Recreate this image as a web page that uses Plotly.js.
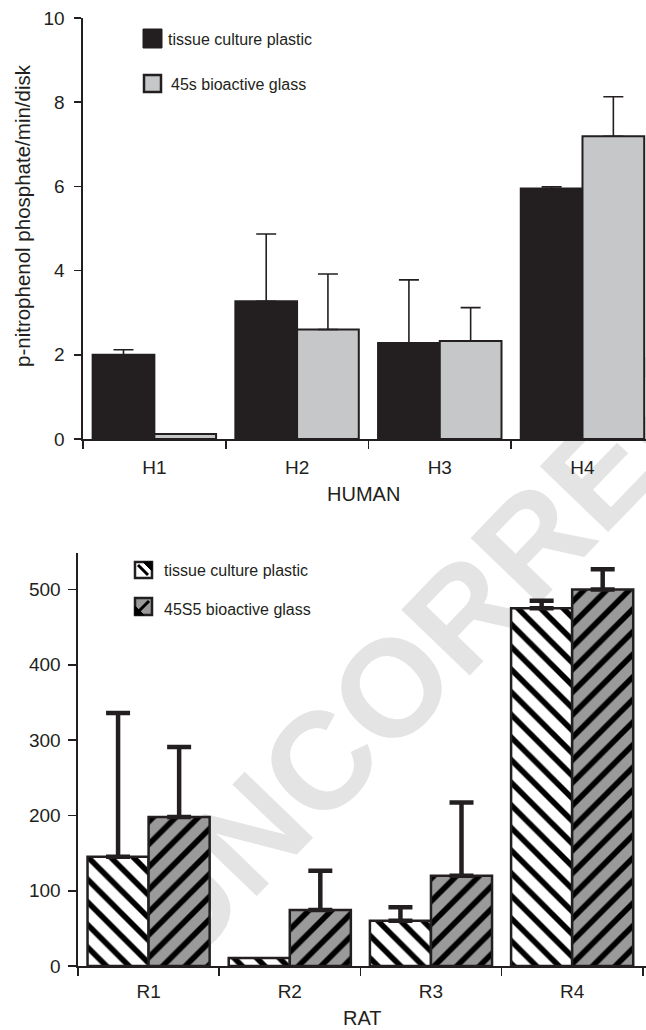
<!DOCTYPE html>
<html>
<head>
<meta charset="utf-8">
<script src="https://cdn.plot.ly/plotly-3.0.1.min.js"></script>
<style>html,body{margin:0;padding:0;background:#fff;}#chart{width:646px;height:1030px;}</style>
</head>
<body>
<div id="chart"></div>
<script>
// ---- data ----
const humanCats = ["H1", "H2", "H3", "H4"];
const humanPlastic = [2.0, 3.27, 2.28, 5.95];
const humanPlasticErr = [0.12, 1.6, 1.5, 0.04];
const humanGlass = [0.12, 2.6, 2.33, 7.19];
const humanGlassErr = [null, 1.32, 0.79, 0.94];

const ratCats = ["R1", "R2", "R3", "R4"];
const ratPlastic = [145, 10.6, 60, 475];
const ratPlasticErr = [191, null, 18, 10];
const ratGlass = [198, 74.4, 120, 500];
const ratGlassErr = [93, 52, 97, 27];

const humanYTicks = [0, 2, 4, 6, 8, 10];
const ratYTicks = [0, 100, 200, 300, 400, 500];

const legendHuman = ["tissue culture plastic", "45s bioactive glass"];
const legendRat = ["tissue culture plastic", "45S5 bioactive glass"];
const yTitleHuman = "p-nitrophenol phosphate/min/disk";
const xTitleHuman = "HUMAN";
const xTitleRat = "RAT";
const watermark = "UNCORRECTED";

// ---- styling / layout helpers ----
const W = 646, H = 1030;
const X = px => px / W;
const Y = py => 1 - py / H;
const INK = "#231f20";
const FONT = "Liberation Sans, Arial, sans-serif";

function errUp(arr, thick, capw) {
  return {
    type: "data", symmetric: false, visible: true,
    array: arr.map(v => v == null ? NaN : v),
    arrayminus: arr.map(v => v == null ? NaN : 0),
    color: INK, thickness: thick, width: capw
  };
}

const traces = [
  {
    type: "bar", x: humanCats, y: humanPlastic, xaxis: "x", yaxis: "y",
    marker: { color: INK, line: { color: INK, width: 2 } },
    error_y: errUp(humanPlasticErr, 1.6, 10), hoverinfo: "skip"
  },
  {
    type: "bar", x: humanCats, y: humanGlass, xaxis: "x", yaxis: "y",
    marker: { color: "#c6c7c9", line: { color: INK, width: 2 } },
    error_y: errUp(humanGlassErr, 1.6, 10), hoverinfo: "skip"
  },
  {
    type: "bar", x: ratCats, y: ratPlastic, xaxis: "x2", yaxis: "y2",
    marker: {
      color: "#ffffff",
      pattern: { shape: "\\", fgcolor: "#000000", bgcolor: "#ffffff", size: 16, solidity: 0.35 },
      line: { color: INK, width: 2.5 }
    },
    error_y: errUp(ratPlasticErr, 4.5, 12), hoverinfo: "skip"
  },
  {
    type: "bar", x: ratCats, y: ratGlass, xaxis: "x2", yaxis: "y2",
    marker: {
      color: "#9a9a9a",
      pattern: { shape: "/", fgcolor: "#000000", bgcolor: "#9a9a9a", size: 16, solidity: 0.35 },
      line: { color: INK, width: 2.5 }
    },
    error_y: errUp(ratGlassErr, 4.5, 12), hoverinfo: "skip"
  }
];

const axisCommon = {
  showgrid: false, zeroline: false, showline: true, linecolor: INK, linewidth: 1.6,
  ticks: "outside", tickcolor: INK, tickwidth: 1.6, fixedrange: true,
  tickfont: { size: 19, color: INK, family: FONT }
};

const shapes = [
  // watermark (behind everything)
  {
    type: "rect", xref: "paper", yref: "paper",
    x0: X(510) - 0.01, x1: X(510) + 0.01, y0: Y(546) - 0.01, y1: Y(546) + 0.01,
    line: { width: 0 }, fillcolor: "rgba(0,0,0,0)", layer: "below",
    label: { text: watermark, textangle: -46, textposition: "middle center",
             font: { size: 138, color: "#e4e4e4", family: FONT, weight: "bold" } }
  },
  // human legend squares
  { type: "rect", xref: "paper", yref: "paper", x0: X(143), x1: X(162), y0: Y(48), y1: Y(29),
    fillcolor: INK, line: { color: INK, width: 1 } },
  { type: "rect", xref: "paper", yref: "paper", x0: X(144), x1: X(161), y0: Y(92), y1: Y(75),
    fillcolor: "#c6c7c9", line: { color: INK, width: 2.5 } },
  // rat legend squares
  { type: "rect", xref: "paper", yref: "paper", x0: X(135), x1: X(152), y0: Y(578), y1: Y(562),
    fillcolor: "#ffffff", line: { color: INK, width: 2.5 } },
  { type: "path", xref: "paper", yref: "paper",
    path: `M ${X(143)} ${Y(562)} L ${X(152)} ${Y(562)} L ${X(152)} ${Y(571)} Z`,
    fillcolor: "#000", line: { color: "#000", width: 1 } },
  { type: "line", xref: "paper", yref: "paper", x0: X(138), y0: Y(565), x1: X(148), y1: Y(575),
    line: { color: "#000", width: 3 } },
  { type: "rect", xref: "paper", yref: "paper", x0: X(135), x1: X(152), y0: Y(615), y1: Y(598),
    fillcolor: "#9a9a9a", line: { color: INK, width: 2.5 } },
  { type: "path", xref: "paper", yref: "paper",
    path: `M ${X(135)} ${Y(606)} L ${X(135)} ${Y(615)} L ${X(144)} ${Y(615)} Z`,
    fillcolor: "#000", line: { color: "#000", width: 1 } },
  { type: "line", xref: "paper", yref: "paper", x0: X(139), y0: Y(611), x1: X(149), y1: Y(601),
    line: { color: "#000", width: 3 } }
];

const ann = (text, x, y, opts) => Object.assign({
  text, xref: "paper", yref: "paper", x: X(x), y: Y(y), showarrow: false,
  xanchor: "left", yanchor: "middle", font: { size: 16, color: INK, family: FONT }
}, opts || {});

const annotations = [
  ann(legendHuman[0], 166, 39),
  ann(legendHuman[1], 169, 84),
  ann(legendRat[0], 162, 570),
  ann(legendRat[1], 162, 609),
  ann(yTitleHuman, 23, 216, { xanchor: "center", textangle: -90, font: { size: 20.5, color: INK, family: FONT } }),
  ann(xTitleHuman, 364, 494, { xanchor: "center", font: { size: 20, color: INK, family: FONT } }),
  ann(xTitleRat, 362, 1018, { xanchor: "center", font: { size: 20, color: INK, family: FONT } })
];

const layout = {
  width: W, height: H,
  margin: { l: 0, r: 0, t: 0, b: 0, pad: 0 },
  paper_bgcolor: "#ffffff", plot_bgcolor: "rgba(0,0,0,0)",
  font: { family: FONT, color: INK },
  showlegend: false, barmode: "group", bargap: 0.135, bargroupgap: 0,
  xaxis: Object.assign({}, axisCommon, {
    domain: [X(83), 1], range: [-0.5, 3.445], type: "category", anchor: "y",
    tickson: "boundaries", ticklen: 8, ticklabelstandoff: 11
  }),
  yaxis: Object.assign({}, axisCommon, {
    domain: [Y(439), Y(18)], range: [0, 10], anchor: "x",
    tickvals: humanYTicks, ticklen: 7, ticklabelstandoff: 6
  }),
  xaxis2: Object.assign({}, axisCommon, {
    domain: [X(78), 1], range: [-0.5, 3.523], type: "category", anchor: "y2",
    tickson: "boundaries", ticklen: 8, ticklabelstandoff: 8
  }),
  yaxis2: Object.assign({}, axisCommon, {
    domain: [Y(966), Y(553)], range: [0, 548.5], anchor: "x2",
    tickvals: ratYTicks, ticklen: 8, ticklabelstandoff: 4
  }),
  shapes, annotations
};

Plotly.newPlot("chart", traces, layout, { staticPlot: true, displayModeBar: false });
</script>
</body>
</html>
